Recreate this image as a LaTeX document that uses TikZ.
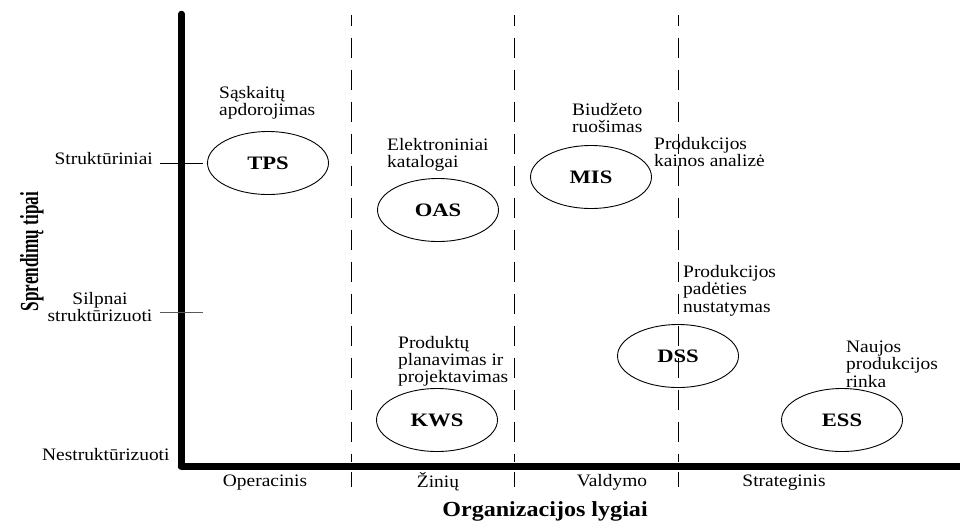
\documentclass[tikz,border=0pt]{standalone}
\usepackage{fontspec}
\setmainfont{Liberation Serif}
\newfontfamily\labfont{Liberation Serif}[FakeStretch=1.11]
\newfontfamily\elfont{Liberation Serif}[FakeStretch=1.19]
\newfontfamily\titlefont{Liberation Serif}[FakeStretch=1.12]
\newfontfamily\rotfont{Liberation Serif}[FakeStretch=0.66]
\usetikzlibrary{shapes.geometric}
\tikzset{
  lab/.style={font=\fontsize{17.5}{16.7}\labfont, inner sep=0pt, align=left, anchor=base west},
  sys/.style={ellipse, draw, line width=0.9pt, minimum width=121pt, minimum height=63pt,
    inner sep=0pt, font=\fontsize{19}{19}\elfont\bfseries},
  level/.style={font=\fontsize{17.5}{16.7}\labfont, inner sep=0pt, anchor=base},
  divider/.style={line width=1pt, dash pattern=on 20pt off 12pt, dash phase=9.3pt},
  tick/.style={line width=1pt},
}
\begin{document}
\begin{tikzpicture}[x=1pt,y=-1pt]
\useasboundingbox (0,0) rectangle (960,525);
% axes
\coordinate (ytop) at (181.5,14);
\coordinate (ybot) at (181.5,466);
\coordinate (xstart) at (181.5,466.5);
\coordinate (xend) at (962,466.5);
\draw[line width=6.5pt, line cap=round] (ytop) -- (ybot);
\draw[line width=7.5pt, line cap=round] (xstart) -- (xend);
% level dividers
\foreach \x [count=\i] in {351,514,678}{
  \coordinate (d\i t) at (\x,15);
  \coordinate (d\i b) at (\x,462);
  \coordinate (k\i t) at (\x,472);
  \coordinate (k\i b) at (\x,487);
  \draw[divider] (d\i t) -- (d\i b);
  \draw[tick] (k\i t) -- (k\i b);
}
% y ticks
\coordinate (t1a) at (160,163); \coordinate (t1b) at (203,163);
\coordinate (t2a) at (160,312); \coordinate (t2b) at (203,312);
\draw[tick] (t1a) -- (t1b);
\draw[tick, black!65] (t2a) -- (t2b);
% y labels
\node[level, anchor=base east] (struk) at (153,164) {Struktūriniai};
\node[level, align=center] (silp) at (100,321) {Silpnai\\struktūrizuoti};
\node[level, anchor=base west] (nestr) at (42,460) {Nestruktūrizuoti};
\node[rotate=90, anchor=base, inner sep=0pt, font=\fontsize{26}{26}\rotfont\bfseries] (ytitle) at (38,251.5) {Sprendimų tipai};
% x labels
\node[level] (oper) at (265,486) {Operacinis};
\node[level] (zin) at (438,487) {Žinių};
\node[level] (vald) at (612,486) {Valdymo};
\node[level] (strat) at (784,486) {Strateginis};
\node[anchor=base, inner sep=0pt, font=\fontsize{21.5}{21.5}\titlefont\bfseries] (xtitle) at (545,516) {Organizacijos lygiai};
% systems
\node[sys] (tps) at (268,163) {TPS};
\node[sys] (oas) at (438,210) {OAS};
\node[sys] (mis) at (591,177) {MIS};
\node[sys] (kws) at (437,420) {KWS};
\node[sys] (dss) at (678,356) {DSS};
\node[sys] (ess) at (842,420) {ESS};
% descriptions (anchor = baseline of last line)
\node[lab] (l1) at (219,115) {Sąskaitų\\apdorojimas};
\node[lab] (l2) at (387,167) {Elektroniniai\\katalogai};
\node[lab] (l3) at (572,132) {Biudžeto\\ruošimas};
\node[lab] (l4) at (654,166) {Produkcijos\\kainos analizė};
\node[lab] (l5) at (398,382) {Produktų\\planavimas ir\\projektavimas};
\node[lab, font=\fontsize{17.5}{17.5}\labfont] (l6) at (683,312) {Produkcijos\\padėties\\nustatymas};
\node[lab, font=\fontsize{17.5}{17.5}\labfont] (l7) at (846,387) {Naujos\\produkcijos\\rinka};
\end{tikzpicture}
\end{document}
